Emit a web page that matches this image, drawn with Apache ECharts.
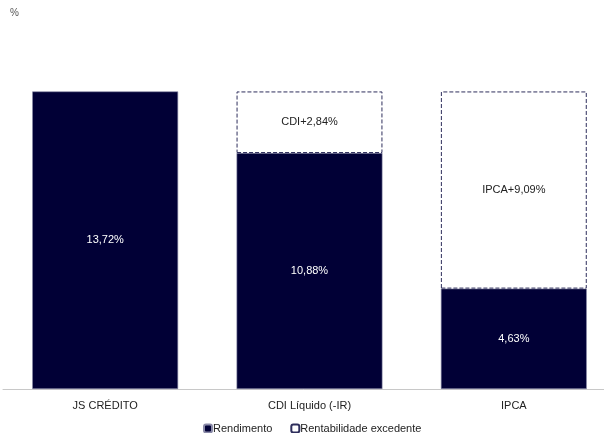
<!DOCTYPE html>
<html>
<head>
<meta charset="utf-8">
<script src="https://cdn.jsdelivr.net/npm/echarts@6/dist/echarts.min.js"></script>
<style>
  html, body { margin: 0; padding: 0; background: #fff; }
  #chart { width: 604px; height: 433px; }
</style>
</head>
<body>
<div id="chart"></div>
<script>
// values
const categories = ['JS CRÉDITO', 'CDI Líquido (-IR)', 'IPCA']
const rendimento = [13.72, 10.88, 4.63]
const excedente = [null, 2.84, 9.09]
const excedenteLabels = ['', 'CDI+2,84%', 'IPCA+9,09%']

const chart = echarts.init(document.getElementById('chart'))

chart.setOption({
  animation: false,
  textStyle: { fontFamily: 'Liberation Sans, Arial, sans-serif' },
  graphic: [{
    type: 'text',
    left: 10,
    top: 8,
    style: { text: '%', fontSize: 10, fill: '#555', fontFamily: 'Liberation Sans, Arial, sans-serif' }
  }],
  legend: {
    top: 418,
    left: 198,
    itemWidth: 8,
    itemHeight: 8,
    itemGap: 18,
    textStyle: { fontSize: 11, color: '#222', padding: [0, 0, 0, -4] },
    data: ['Rendimento', 'Rentabilidade excedente']
  },
  grid: {
    left: 3,
    top: 42,
    width: 613,
    height: 347,
    containLabel: false,
    outerBoundsMode: 'none'
  },
  xAxis: {
    type: 'category',
    data: categories,
    axisTick: { show: false },
    axisLine: { lineStyle: { color: '#c8c8c8', width: 1 } },
    axisLabel: { color: '#222', fontSize: 11, margin: 11 }
  },
  yAxis: {
    type: 'value',
    min: 0,
    max: 16,
    show: false,
    splitLine: { show: false }
  },
  series: [
    {
      name: 'Rendimento',
      type: 'bar',
      stack: 'total',
      barCategoryGap: '28.6%',
      data: rendimento,
      itemStyle: { color: '#010036', borderColor: '#8a8aa8', borderWidth: 0.6 },
      label: {
        show: true,
        position: 'inside',
        color: '#fff',
        fontSize: 11,
        formatter: p => p.value.toFixed(2).replace('.', ',') + '%'
      }
    },
    {
      name: 'Rentabilidade excedente',
      type: 'bar',
      stack: 'total',
      data: excedente,
      itemStyle: {
        color: '#ffffff',
        borderColor: '#2e2e5c',
        borderWidth: 1,
        borderType: [4, 2]
      },
      label: {
        show: true,
        position: 'inside',
        color: '#222',
        fontSize: 11,
        formatter: p => excedenteLabels[p.dataIndex]
      }
    }
  ]
})
</script>
</body>
</html>
